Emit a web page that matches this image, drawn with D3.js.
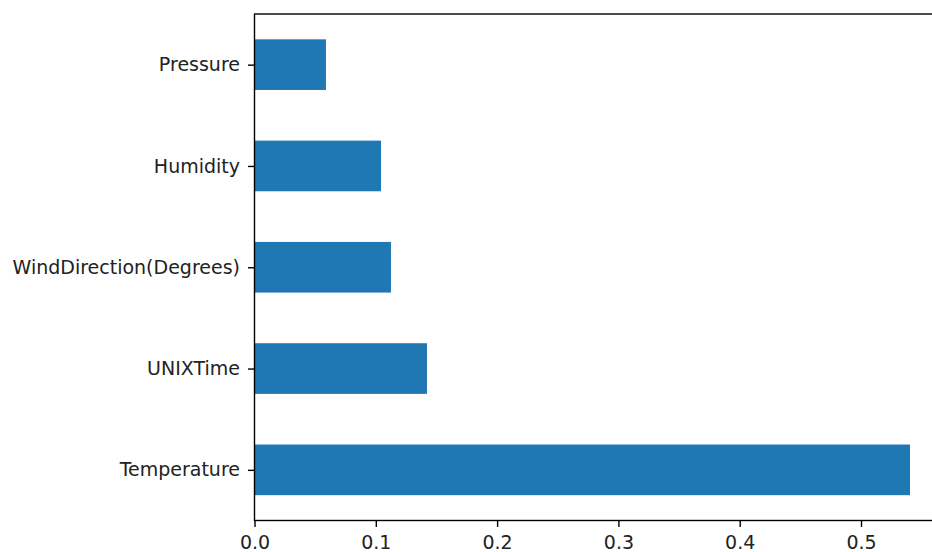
<!DOCTYPE html>
<html><head><meta charset="utf-8">
<script src="https://cdn.jsdelivr.net/npm/d3@7"></script>
<style>body{margin:0;background:#fff}svg{display:block}text{font-family:"DejaVu Sans",sans-serif}</style>
</head><body>
<svg id="c" width="932" height="552"></svg>
<script>
const categories = ["Temperature","UNIXTime","WindDirection(Degrees)","Humidity","Pressure"];
const values = [0.5404, 0.1422, 0.1125, 0.1043, 0.0589];
const xTicks = [0.0, 0.1, 0.2, 0.3, 0.4, 0.5];

(function(){
const svg = d3.select("#c");
const mLeft = 254.5, mTop = 14, mBottom = 520.5;
const xMax = d3.max(values) * 1.05;
const x = d3.scaleLinear().domain([0, xMax]).range([mLeft, mLeft + 1213 * xMax]);
const y = d3.scaleLinear().domain([-0.5, categories.length - 0.5]).range([mBottom, mTop]);
const fs = 19, tickLen = 6.5;

svg.append("g").selectAll("rect").data(values).join("rect")
  .attr("x", x(0))
  .attr("y", (d,i) => y(i + 0.25))
  .attr("width", d => x(d) - x(0))
  .attr("height", (d,i) => y(i - 0.25) - y(i + 0.25))
  .attr("fill", "#1f77b4");

const xAxis = d3.axisBottom(x).tickValues(xTicks).tickFormat(d3.format(".1f"))
  .tickSize(tickLen).tickPadding(9);
const gx = svg.append("g").attr("transform", `translate(0,${mBottom})`).call(xAxis);
gx.select(".domain").remove();
gx.selectAll("line").attr("stroke", "#000").attr("stroke-width", 1.4);
gx.selectAll("text").attr("font-size", fs).attr("fill", "#222").attr("font-family", "DejaVu Sans");

const yAxis = d3.axisLeft(y).tickValues(d3.range(categories.length)).tickFormat(i => categories[i])
  .tickSize(tickLen).tickPadding(8);
const gy = svg.append("g").attr("transform", `translate(${mLeft},0)`).call(yAxis);
gy.select(".domain").remove();
gy.selectAll("line").attr("stroke", "#000").attr("stroke-width", 1.4);
gy.selectAll("text").attr("font-size", fs).attr("fill", "#222").attr("font-family", "DejaVu Sans");

const mRight = x(xMax);
svg.append("rect").attr("x", mLeft).attr("y", mTop).attr("width", mRight - mLeft).attr("height", mBottom - mTop)
  .attr("fill", "none").attr("stroke", "#000").attr("stroke-width", 1.4);
})();
</script>
</body></html>
